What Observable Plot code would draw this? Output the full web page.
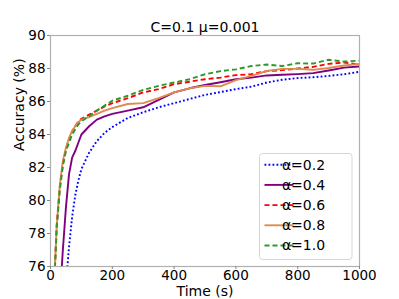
<!DOCTYPE html>
<html><head><meta charset="utf-8">
<script src="https://cdn.jsdelivr.net/npm/d3@7"></script>
<script src="https://cdn.jsdelivr.net/npm/@observablehq/plot@0.6"></script>
<style>
body{margin:0;background:#fff;}
#chart{position:relative;width:399px;height:299px;}
svg{font-family:"DejaVu Sans",sans-serif;}
</style>
</head><body><div id="chart"></div>
<script>
const title = "C=0.1 μ=0.001";
const xLabel = "Time (s)";
const yLabel = "Accuracy (%)";
const xTicks = [0, 200, 400, 600, 800, 1000];
const yTicks = [76, 78, 80, 82, 84, 86, 88, 90];
const labels = ["α=0.2", "α=0.4", "α=0.6", "α=0.8", "α=1.0"];
const colors = ["#0000ff", "#800080", "#ff0000", "#dd8b4e", "#2a9a2a"];
const dashes = ["1.8,2.2", "none", "5,3", "none", "5,3"];

const times = [10,20,30,40,50,60,70,80,90,100,125,150,175,200,250,300,350,400,450,500,550,600,650,700,750,800,850,900,950,1000];
const acc02 = [null,null,null,null,75.0,77.2,79.0,80.3,81.2,81.9,82.9,83.6,84.1,84.45,85.0,85.35,85.65,85.9,86.15,86.4,86.57,86.75,86.9,87.15,87.32,87.42,87.47,87.55,87.65,87.8];
const acc04 = [null,null,74.0,77.0,79.6,81.6,82.6,83.0,83.5,84.0,84.5,84.9,85.1,85.25,85.45,85.65,86.1,86.55,86.8,87.0,87.17,87.35,87.45,87.58,87.62,87.66,87.72,87.88,88.05,88.12];
const acc06 = [74.0,78.5,80.8,82.2,83.1,83.7,84.2,84.5,84.8,84.95,85.2,85.45,85.7,85.9,86.2,86.55,86.75,87.05,87.2,87.35,87.45,87.6,87.65,87.84,87.9,88.0,88.1,88.28,88.36,88.24];
const acc08 = [74.2,78.4,80.9,82.4,83.2,83.8,84.2,84.5,84.75,84.9,85.05,85.25,85.45,85.6,85.85,85.9,86.2,86.55,86.8,86.95,86.92,87.3,87.55,87.85,87.98,87.98,87.92,88.03,88.18,88.28];
const acc10 = [74.0,78.3,80.6,82.1,83.0,83.5,84.0,84.3,84.6,84.8,85.1,85.45,85.75,86.05,86.35,86.7,86.95,87.15,87.35,87.65,87.84,87.95,88.15,88.24,88.15,88.32,88.3,88.53,88.42,88.48];
const seriesValues = [acc02, acc04, acc06, acc08, acc10];

const lineMarks = seriesValues.map((vals, i) => {
  const rows = times.map((t, j) => ({t, v: vals[j]}));
  return Plot.line(rows, {x: "t", y: "v", stroke: colors[i], strokeWidth: 1.9,
    strokeDasharray: dashes[i], strokeLinecap: "butt", clip: true, curve: "linear"});
});

const plot = Plot.plot({
  width: 399, height: 299,
  marginLeft: 50, marginRight: 40, marginTop: 35, marginBottom: 33,
  style: {fontFamily: "DejaVu Sans", fontSize: "13px", color: "#000", background: "#fff"},
  x: {domain: [0, 1000]},
  y: {domain: [76, 90]},
  marks: [
    ...lineMarks,
    Plot.frame({stroke: "#b0b0b0", strokeWidth: 1.2}),
    Plot.axisX(xTicks, {tickSize: 3, tickPadding: 1, fontSize: 13.5, label: null, stroke: "#888", tickFormat: d3.format("d")}),
    Plot.axisY(yTicks, {tickSize: 3, tickPadding: 2, fontSize: 13.5, label: null, stroke: "#888", tickFormat: d3.format("d")}),
    Plot.text([title], {frameAnchor: "top", dy: -8, fontSize: 14, lineAnchor: "middle"}),
    Plot.text([xLabel], {frameAnchor: "bottom", dy: 25, fontSize: 14, lineAnchor: "middle"}),
    Plot.text([yLabel], {frameAnchor: "left", dx: -31, rotate: -90, fontSize: 14, lineAnchor: "middle"})
  ]
});
document.getElementById("chart").appendChild(plot);

// legend
const svg = d3.select(plot);
const lg = svg.append("g").attr("transform", "translate(259.5,153.5)");
lg.append("rect").attr("width", 92.5).attr("height", 106).attr("rx", 3)
  .attr("fill", "#fff").attr("fill-opacity", 0.85).attr("stroke", "#d6d6d6");
labels.forEach((lab, i) => {
  const y = 11.2 + i * 20.2;
  lg.append("line").attr("x1", 5).attr("x2", 34).attr("y1", y).attr("y2", y)
    .attr("stroke", colors[i]).attr("stroke-width", 1.9)
    .attr("stroke-dasharray", dashes[i]);
  lg.append("text").attr("x", 44).attr("y", y).attr("dy", "0.35em")
    .attr("font-size", 14).attr("fill", "#000").text(lab);
});
</script>
</body></html>
